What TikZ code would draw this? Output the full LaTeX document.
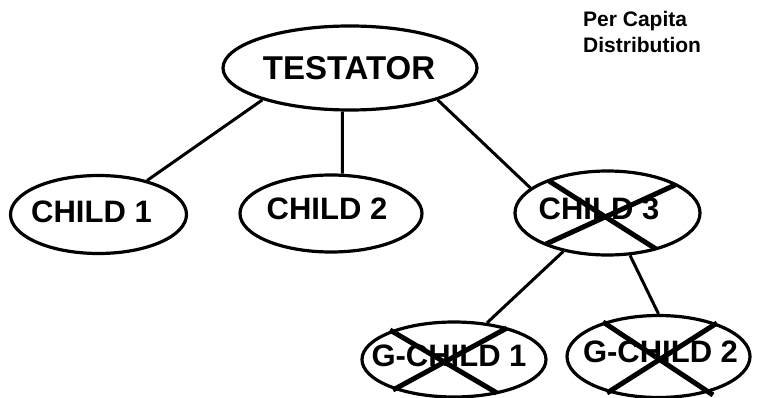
\documentclass[tikz,border=0pt]{standalone}
\usepackage{fontspec}
\setmainfont{Liberation Sans}
\usetikzlibrary{shapes.geometric,calc}
\tikzset{
  oval/.style={draw, ellipse, line width=3.2pt, inner sep=0pt},
  lbl/.style={font=\fontsize{31}{31}\selectfont\bfseries, inner sep=0pt},
  conn/.style={line width=3pt},
  cross/.style={line width=5pt},
  note/.style={font=\fontsize{21}{21}\selectfont\bfseries, inner sep=0pt, anchor=base west}
}
\begin{document}
\begin{tikzpicture}[x=1pt,y=-1pt]
\useasboundingbox (0,0) rectangle (760,398);
% ellipses
\node[oval, minimum width=254pt, minimum height=84pt] (t) at (350,68) {};
\node[oval, minimum width=176pt, minimum height=78pt] (c1) at (98.5,214.5) {};
\node[oval, minimum width=182pt, minimum height=77pt] (c2) at (331,213.5) {};
\node[oval, minimum width=185pt, minimum height=84pt] (c3) at (607.5,213) {};
\node[oval, minimum width=184pt, minimum height=75pt] (g1) at (454,359.5) {};
\node[oval, minimum width=183pt, minimum height=82pt] (g2) at (658.5,356.5) {};
% labels
\node[lbl, font=\fontsize{33}{33}\selectfont\bfseries] (tl) at ($(t)+(-1,0)$) {TESTATOR};
\node[lbl] (c1l) at ($(c1)+(-7,-2.5)$) {CHILD 1};
\node[lbl] (c2l) at ($(c2)+(-4,-4.5)$) {CHILD 2};
\node[lbl] (c3l) at ($(c3)+(-8.5,-4.5)$) {CHILD 3};
\node[lbl] (g1l) at ($(g1)+(-5,-3.5)$) {G-CHILD 1};
\node[lbl] (g2l) at ($(g2)+(2,-5)$) {G-CHILD 2};
% note
\node[note] (pc1) at (583,27) {Per Capita};
\node[note] (pc2) at (583,53) {Distribution};
% connectors
\draw[conn] (t.200) -- (c1.35);
\draw[conn] (t.260.5) -- (c2.74);
\draw[conn] (t.340.4) -- (c3.162);
\draw[conn] (c3.221) -- (g1.48);
\draw[conn] (c3.298) -- (g2.90.7);
% crosses
\draw[cross] ($(c3)+(-58.5,-32)$) -- ($(c3)+(48.5,36)$);
\draw[cross] ($(c3)+(67.5,-28)$) -- ($(c3)+(-61.5,31)$);
\draw[cross] ($(g1)+(-64,-29.5)$) -- ($(g1)+(43,33.5)$);
\draw[cross] ($(g1)+(53,-31.5)$) -- ($(g1)+(-61,30.5)$);
\draw[cross] ($(g2)+(-55.5,-34.5)$) -- ($(g2)+(54.5,38.5)$);
\draw[cross] ($(g2)+(58.5,-33.5)$) -- ($(g2)+(-51.5,36.5)$);
\end{tikzpicture}
\end{document}
